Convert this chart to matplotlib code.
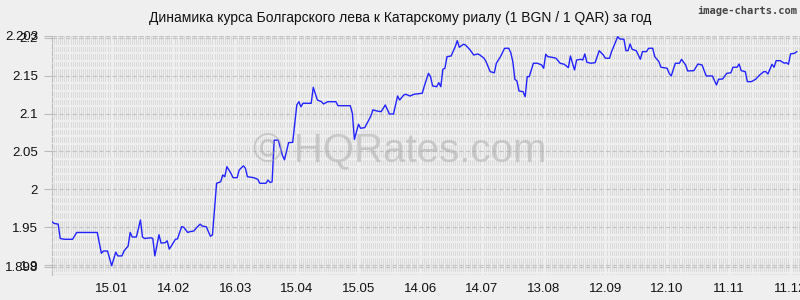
import matplotlib
matplotlib.use("Agg")
import matplotlib.pyplot as plt
import numpy as np

plt.rcParams['font.family'] = ['Liberation Sans', 'DejaVu Sans']

# days since 17.12 (start of the year window)
days = [0, 1, 3, 4, 6, 10, 12, 22, 24, 25, 27, 29, 31, 32, 34, 35, 37, 38, 39, 41,
        43, 44, 45, 48, 49, 50, 52, 53, 55, 56, 57, 58, 60, 61, 63, 64, 66, 67, 69, 70,
        72, 73, 75, 77, 78, 80, 82, 83, 84, 85, 87, 88, 90, 91, 93, 94, 95, 98, 100, 101,
        104, 105, 106, 107, 108, 110, 112, 113, 115, 117, 119, 120, 121, 122, 126, 127, 129, 131, 132, 134,
        138, 139, 145, 146, 147, 149, 150, 152, 154, 155, 156, 158, 160, 162, 164, 166, 167, 168, 169, 171,
        172, 174, 176, 180, 181, 183, 184, 185, 187, 188, 189, 190, 191, 192, 194, 196, 197, 198, 200, 201,
        203, 205, 207, 208, 210, 211, 213, 215, 216, 218, 220, 222, 223, 224, 225, 226, 227, 229, 230, 231,
        232, 234, 236, 238, 239, 240, 241, 243, 245, 247, 249, 251, 252, 253, 254, 255, 257, 258, 259, 260,
        262, 264, 265, 266, 268, 269, 271, 272, 275, 276, 278, 279, 280, 281, 282, 284, 286, 287, 289, 290,
        292, 293, 295, 296, 299, 300, 301, 303, 305, 306, 308, 309, 312, 314, 316, 318, 321, 323, 324, 326,
        328, 330, 331, 333, 334, 335, 337, 338, 340, 342, 344, 346, 347, 348, 350, 351, 352, 354, 356, 357,
        358, 359, 361, 362]
rate = [1.957, 1.955, 1.954, 1.935, 1.934, 1.934, 1.943, 1.943, 1.9155, 1.9185, 1.9185, 1.899, 1.917, 1.912, 1.912, 1.9185, 1.925, 1.943, 1.937, 1.937,
        1.9595, 1.937, 1.935, 1.936, 1.935, 1.912, 1.940, 1.929, 1.9295, 1.932, 1.921, 1.925, 1.934, 1.9345, 1.9507, 1.950, 1.943, 1.944, 1.945, 1.9485,
        1.954, 1.9515, 1.9505, 1.938, 1.9397, 2.008, 2.010, 2.019, 2.0167, 2.030, 2.021, 2.0154, 2.0154, 2.0256, 2.031, 2.028, 2.0167, 2.0154, 2.0133, 2.008,
        2.008, 2.0123, 2.009, 2.010, 2.065, 2.065, 2.045, 2.039, 2.0617, 2.062, 2.1115, 2.1158, 2.109, 2.1137, 2.1137, 2.1348, 2.118, 2.1158, 2.1128, 2.1158,
        2.1158, 2.1105, 2.1105, 2.1005, 2.066, 2.086, 2.0807, 2.0815, 2.0916, 2.097, 2.105, 2.1035, 2.1026, 2.1115, 2.0996, 2.0996, 2.1115, 2.1233, 2.118, 2.1247,
        2.1256, 2.1233, 2.1256, 2.127, 2.1366, 2.1533, 2.149, 2.1366, 2.1356, 2.141, 2.1356, 2.1586, 2.160, 2.1753, 2.1762, 2.1885, 2.1965, 2.1877, 2.1917, 2.1907,
        2.185, 2.1775, 2.1789, 2.1775, 2.1732, 2.1687, 2.1555, 2.154, 2.1666, 2.1753, 2.1864, 2.1864, 2.1806, 2.1687, 2.1454, 2.1432, 2.130, 2.129, 2.1224, 2.1489,
        2.1489, 2.1666, 2.1666, 2.1643, 2.160, 2.1785, 2.1753, 2.1745, 2.1732, 2.1666, 2.1652, 2.1608, 2.1762, 2.1666, 2.1577, 2.1709, 2.1718, 2.1709, 2.1789, 2.1679,
        2.1666, 2.1674, 2.1753, 2.1832, 2.1775, 2.1732, 2.1732, 2.1819, 2.2017, 2.1987, 2.1983, 2.1832, 2.1832, 2.1921, 2.185, 2.1832, 2.1718, 2.1819, 2.182, 2.1864,
        2.1864, 2.1753, 2.1687, 2.1613, 2.160, 2.1533, 2.1498, 2.1666, 2.1666, 2.1718, 2.1643, 2.1564, 2.1568, 2.1656, 2.1643, 2.1498, 2.1498, 2.1379, 2.1454, 2.1458,
        2.1533, 2.154, 2.1613, 2.1613, 2.1656, 2.1568, 2.1555, 2.1423, 2.1423, 2.1454, 2.1511, 2.1555, 2.1555, 2.1524, 2.1652, 2.1613, 2.170, 2.170, 2.1666, 2.1674,
        2.1652, 2.1789, 2.1798, 2.1819]

tick_days = [29, 59, 89, 119, 149, 179, 209, 239, 269, 299, 329, 359]
tick_labels = ['15.01', '14.02', '16.03', '15.04', '15.05', '14.06', '14.07',
               '13.08', '12.09', '12.10', '11.11', '11.12']
y_ticks = [1.898, 1.9, 1.95, 2.0, 2.05, 2.1, 2.15, 2.2, 2.203]
y_labels = ['1.898', '1.9', '1.95', '2', '2.05', '2.1', '2.15', '2.2', '2.203']

bg = '#efefef'
fig = plt.figure(figsize=(8, 3), dpi=100, facecolor=bg)
ax = fig.add_axes([52 / 800, 25 / 300, 748 / 800, 239.3 / 300], facecolor=bg)

ax.set_xlim(0, 363.6)
ax.set_ylim(1.8868, 2.203)

# background texture: fine vertical lines cut by background-coloured rows
ax.set_xticks(np.arange(0, 364, 1.0), minor=True)
ax.set_yticks(np.arange(1.89, 2.205, 0.01), minor=True)
ax.grid(which='minor', axis='x', color='#d6d6d6', lw=0.6)
ax.grid(which='minor', axis='y', color=bg, lw=1.6)
ax.grid(which='major', axis='y', color='#c4c4c4', lw=0.8, ls=(0, (4, 2)))
ax.set_axisbelow(True)

ax.plot(days, rate, color='#2222ff', lw=1.0, zorder=3)

ax.set_xticks(tick_days)
ax.set_xticklabels(tick_labels)
ax.set_yticks(y_ticks)
ax.set_yticklabels(y_labels)
ax.tick_params(axis='x', which='both', length=0, labelsize=9.5, colors='#111111', pad=6)
ax.tick_params(axis='y', which='major', length=6, color='#bbbbbb', labelsize=9.5,
               labelcolor='#111111', pad=4)
ax.tick_params(axis='y', which='minor', length=0)

for s in ['top', 'right', 'bottom']:
    ax.spines[s].set_visible(False)
ax.spines['left'].set_color('#bbbbbb')
ax.spines['left'].set_linestyle((0, (4, 2)))
ax.spines['left'].set_linewidth(0.8)

fig.text(0.5, 0.94, 'Динамика курса Болгарского лева к Катарскому риалу (1 BGN / 1 QAR) за год',
         ha='center', va='center', fontsize=10, color='#111111')
fig.text(0.997, 0.965, 'image-charts.com', ha='right', va='center', fontsize=7.5,
         family='DejaVu Sans Mono', color='#444444', fontweight='bold')
fig.text(0.5, 0.495, '© HQRates.com', ha='center', va='center', fontsize=29,
         color='#a8a8a8', alpha=0.5, zorder=0)

fig.savefig('out.png', dpi=100, facecolor=bg)
